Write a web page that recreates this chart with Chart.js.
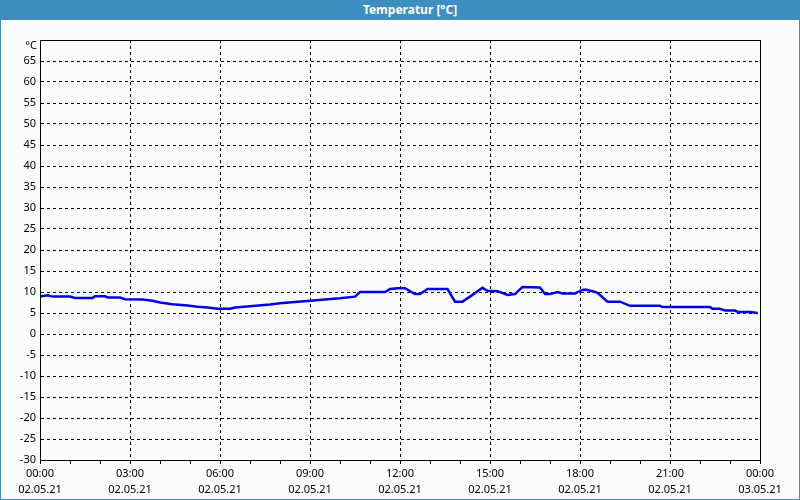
<!DOCTYPE html>
<html>
<head>
<meta charset="utf-8">
<script src="https://cdn.jsdelivr.net/npm/chart.js@4/dist/chart.umd.min.js"></script>
<style>
  html, body { margin: 0; padding: 0; background: #fbfdfb; }
  #frame { position: relative; width: 798px; height: 479px; border: 1px solid #3d8fc1; border-top: none; background: #fbfdfb; padding-top: 20px; }
  #titlebar { position: absolute; left: -1px; top: 0; width: 800px; height: 20px; background: #3d8fc1; color: #fff;
    font: bold 12px "Noto Sans", sans-serif; line-height: 20px; text-align: center; text-indent: 20px; }
  canvas { display: block; }
</style>
</head>
<body>
<div id="frame">
  <div id="titlebar">Temperatur [°C]</div>
  <div style="width:798px;height:479px;"><canvas id="c" width="798" height="479"></canvas></div>
</div>
<script>
const times = ["00:00","00:15","00:25","01:00","01:10","01:45","01:50","02:10","02:15","02:40","02:50","03:25","03:45","04:00","04:25","04:55","05:15","05:35","05:55","06:20","06:30","07:00","07:40","08:00","08:30","09:00","09:30","10:00","10:30","10:40","11:30","11:40","11:55","12:10","12:30","12:40","12:55","13:35","13:50","14:05","14:20","14:45","14:55","15:15","15:35","15:50","16:05","16:40","16:50","17:00","17:15","17:25","17:50","18:05","18:10","18:25","18:35","18:55","19:20","19:40","20:40","20:45","22:20","22:25","22:40","22:50","23:10","23:15","23:40","23:55"];
const temps = [8.9,9.2,8.9,8.9,8.6,8.6,9.0,9.0,8.7,8.7,8.3,8.2,7.9,7.5,7.1,6.8,6.5,6.3,6.0,6.0,6.3,6.6,7.0,7.3,7.6,7.9,8.2,8.5,8.9,10.0,10.0,10.7,10.9,10.9,9.5,9.5,10.7,10.7,7.7,7.7,8.9,11.0,10.3,10.2,9.3,9.5,11.2,11.1,9.5,9.5,10.0,9.65,9.65,10.5,10.6,10.2,9.8,7.7,7.7,6.7,6.7,6.4,6.4,6.0,6.0,5.6,5.6,5.25,5.25,5.0];
const xTickTimes = ["00:00","03:00","06:00","09:00","12:00","15:00","18:00","21:00","00:00"];
const xTickDates = ["02.05.21","02.05.21","02.05.21","02.05.21","02.05.21","02.05.21","02.05.21","02.05.21","03.05.21"];
const yMin = -30, yMax = 70, yStep = 5;
const yUnitLabel = "°C";

function toHours(s) { const [h, m] = s.split(":").map(Number); return h + m / 60; }
const points = times.map((t, i) => ({ x: toHours(t), y: temps[i] }));

const font = { family: "'Noto Sans', sans-serif", size: 11 };

new Chart(document.getElementById("c"), {
  type: "line",
  data: { datasets: [{ data: points, borderColor: "#0000ee", borderWidth: 2.5, pointRadius: 0, tension: 0, fill: false }] },
  options: {
    responsive: false, animation: false,
    layout: { padding: { top: 20, right: 39, left: 0, bottom: 0 } },
    plugins: { legend: { display: false }, tooltip: { enabled: false } },
    scales: {
      x: {
        type: "linear", min: 0, max: 24,
        border: { display: true, color: "#000", width: 1, dash: [3, 3] },
        grid: {
          color: c => (c.tick && c.tick.value % 3 === 0 && c.tick.value > 0 && c.tick.value < 24) ? "#000" : "rgba(0,0,0,0)",
          tickColor: "#000", tickLength: 4, lineWidth: 1, tickWidth: 1, tickBorderDash: [], drawTicks: true
        },
        ticks: {
          stepSize: 1, autoSkip: false, maxRotation: 0, padding: 2, color: "#000",
          font: { ...font, lineHeight: 16 / 11 },
          callback: v => (v % 3 === 0) ? [xTickTimes[v / 3], xTickDates[v / 3]] : ""
        },
        afterFit: s => { s.height = 39; }
      },
      y: {
        min: yMin, max: yMax,
        border: { display: true, color: "#000", width: 1, dash: [3, 3] },
        grid: {
          color: c => (c.tick && c.tick.value > yMin && c.tick.value < yMax) ? "#000" : "rgba(0,0,0,0)",
          drawTicks: false, lineWidth: 1
        },
        ticks: {
          stepSize: yStep, padding: 4, color: "#000", font,
          callback: v => v === yMax ? "" : String(v)
        },
        afterFit: s => { s.width = 39; }
      }
    }
  },
  plugins: [{
    id: "frameTop",
    afterDatasetsDraw(chart) {
      const { ctx, chartArea: a } = chart;
      ctx.save(); ctx.strokeStyle = "#000"; ctx.lineWidth = 1; ctx.setLineDash([]);
      ctx.strokeRect(Math.round(a.left) + 0.5, Math.round(a.top) + 0.5, Math.round(a.right - a.left), Math.round(a.bottom - a.top));
      ctx.fillStyle = "#000"; ctx.font = "11px 'Noto Sans', sans-serif";
      ctx.textAlign = "right"; ctx.textBaseline = "middle";
      ctx.fillText(yUnitLabel, a.left - 3, a.top + 6);
      ctx.restore();
    }
  }]
});
</script>
</body>
</html>
